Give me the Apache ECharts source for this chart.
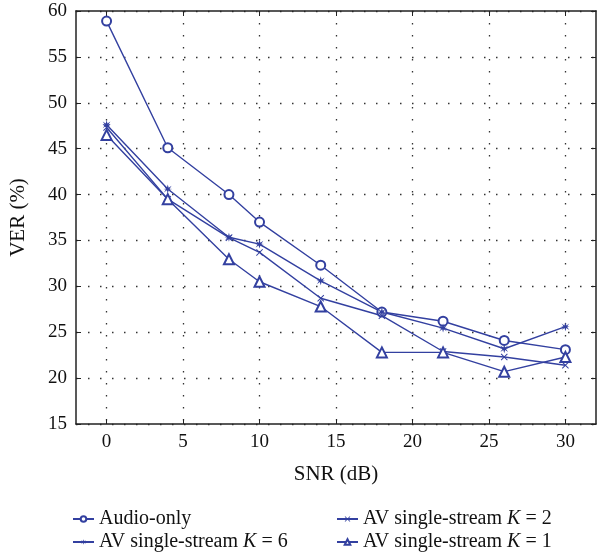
<!DOCTYPE html>
<html>
<head>
<meta charset="utf-8">
<script src="https://cdn.jsdelivr.net/npm/echarts@6/dist/echarts.min.js"></script>
<style>
  html, body { margin: 0; padding: 0; background: #fff; }
  #main { width: 599px; height: 554px; }
</style>
</head>
<body>
<div id="main"></div>
<script>
// SNR 点
const snr = [0, 4, 8, 10, 14, 18, 22, 26, 30]
const audioOnly = [58.9, 45.1, 40.0, 37.0, 32.3, 27.2, 26.2, 24.1, 23.1]
const avK6 = [47.6, 40.6, 35.35, 34.6, 30.6, 27.2, 25.45, 23.2, 25.6]
const avK2 = [47.3, 39.5, 35.3, 33.7, 28.7, 26.8, 22.9, 22.3, 21.4]
const avK1 = [46.5, 39.5, 32.95, 30.5, 27.8, 22.8, 22.8, 20.7, 22.3]
const xTicks = [0, 5, 10, 15, 20, 25, 30]

const blue = '#3340a0'
const font = 'Liberation Serif'
const xSym = 'path://M0,1 L1,0 L5,4 L9,0 L10,1 L6,5 L10,9 L9,10 L5,6 L1,10 L0,9 L4,5 Z'
const starSym = 'path://M5,0 L6,3.6 L9.3,1.3 L7,4.6 L10,5 L7,5.4 L9.3,8.7 L6,6.4 L5,10 L4,6.4 L0.7,8.7 L3,5.4 L0,5 L3,4.6 L0.7,1.3 L4,3.6 Z'

function pairs(ys) {
  return snr.map((x, i) => [x, ys[i]])
}

const mycharts = echarts.init(document.getElementById('main'))
const rich = {
  n: { fontFamily: font, fontSize: 20, color: '#111' },
  i: { fontFamily: font, fontSize: 20, color: '#111', fontStyle: 'italic' }
}
const legendFmt = function (name) {
  const m = name.match(/^(.*)K( = \d)$/)
  if (m) return '{n|' + m[1] + '}{i|K}{n|' + m[2] + '}'
  return '{n|' + name + '}'
}
// 每个图例单独放
function oneLegend(name, left, top) {
  return {
    left: left, top: top, itemWidth: 21, itemHeight: 7, itemGap: 0,
    padding: 0, data: [name],
    formatter: legendFmt, textStyle: { rich: rich }
  }
}
const axisLine = { show: true, onZero: false, lineStyle: { color: '#222', width: 1.5 } }
const dotted = { show: true, lineStyle: { type: [1.5, 10.5], color: '#333', width: 1.3 } }
const option = {
  animation: false,
  backgroundColor: '#fff',
  grid: { left: 72, top: 11, right: 3, bottom: 130 },
  legend: [
    oneLegend('Audio-only', 72, 509),
    oneLegend('AV single-stream K = 6', 72, 532),
    oneLegend('AV single-stream K = 2', 336, 509),
    oneLegend('AV single-stream K = 1', 336, 532)
  ],
  xAxis: [
    {
      type: 'value', min: -2, max: 32,
      name: 'SNR (dB)', nameLocation: 'middle', nameGap: 40,
      nameTextStyle: { fontFamily: font, fontSize: 21, color: '#111' },
      axisLine: axisLine,
      axisTick: { inside: true, length: 5, customValues: xTicks, lineStyle: { color: '#222' } },
      axisLabel: { customValues: xTicks, fontFamily: font, fontSize: 19, color: '#111', margin: 9 },
      splitLine: dotted
    },
    {
      type: 'value', min: -2, max: 32, position: 'top',
      axisLine: axisLine,
      axisTick: { inside: true, length: 5, customValues: xTicks, lineStyle: { color: '#222' } },
      axisLabel: { show: false },
      splitLine: { show: false }
    }
  ],
  yAxis: [
    {
      type: 'value', min: 15, max: 60, interval: 5,
      name: 'VER (%)', nameLocation: 'middle', nameGap: 47,
      nameTextStyle: { fontFamily: font, fontSize: 21, color: '#111' },
      axisLine: axisLine,
      axisTick: { inside: true, length: 5, lineStyle: { color: '#222' } },
      axisLabel: { fontFamily: font, fontSize: 19, color: '#111', margin: 9 },
      splitLine: dotted
    },
    {
      type: 'value', min: 15, max: 60, interval: 5, position: 'right',
      axisLine: axisLine,
      axisTick: { inside: true, length: 5, lineStyle: { color: '#222' } },
      axisLabel: { show: false },
      splitLine: { show: false }
    }
  ],
  series: [
    {
      name: 'Audio-only', type: 'line', data: pairs(audioOnly),
      symbol: 'emptyCircle', symbolSize: 9,
      lineStyle: { color: blue, width: 1.4 },
      itemStyle: { color: blue, borderWidth: 1.3 }
    },
    {
      name: 'AV single-stream K = 6', type: 'line', data: pairs(avK6),
      symbol: starSym, symbolSize: 9,
      lineStyle: { color: blue, width: 1.4 },
      itemStyle: { color: blue }
    },
    {
      name: 'AV single-stream K = 2', type: 'line', data: pairs(avK2),
      symbol: xSym, symbolSize: 7,
      lineStyle: { color: blue, width: 1.4 },
      itemStyle: { color: blue }
    },
    {
      name: 'AV single-stream K = 1', type: 'line', data: pairs(avK1),
      symbol: 'emptyTriangle', symbolSize: 10,
      lineStyle: { color: blue, width: 1.4 },
      itemStyle: { color: blue, borderWidth: 1.3 }
    }
  ]
}
mycharts.setOption(option)
</script>
</body>
</html>
